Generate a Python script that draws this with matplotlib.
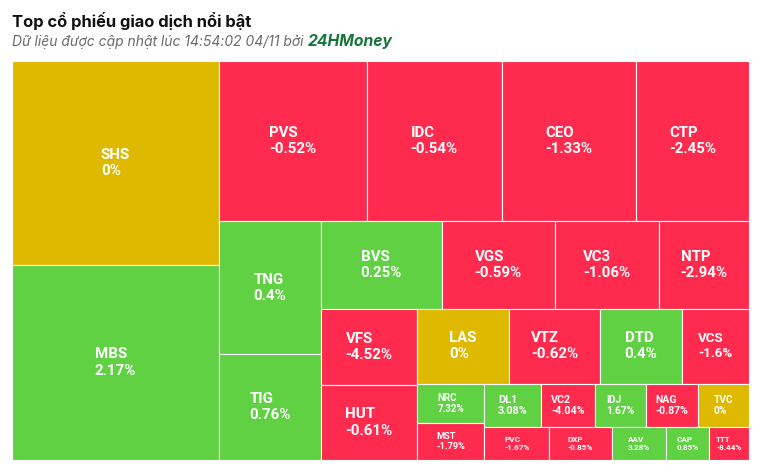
import matplotlib
matplotlib.use("Agg")
import matplotlib.pyplot as plt
from matplotlib.patches import Rectangle

# ma co phieu, % thay doi, khoi luong giao dich (uoc luong tu dien tich o)
tickers = ["SHS", "MBS", "PVS", "IDC", "CEO", "CTP", "TNG", "TIG", "BVS", "VGS",
           "VC3", "NTP", "VFS", "HUT", "LAS", "VTZ", "DTD", "VCS", "NRC", "MST",
           "DL1", "VC2", "IDJ", "NAG", "TVC", "PVC", "DXP", "AAV", "CAP", "TTT"]
changes = [0, 2.17, -0.52, -0.54, -1.33, -2.45, 0.4, 0.76, 0.25, -0.59,
           -1.06, -2.94, -4.52, -0.61, 0, -0.62, 0.4, -1.6, 7.32, -1.79,
           3.08, -4.04, 1.67, -0.87, 0, -1.67, -0.85, 3.28, 0.85, -8.44]
volumes = [42230, 40370, 23630, 21600, 21490, 18080, 13560, 10750, 10590, 9890,
           9130, 7880, 7330, 7200, 6900, 6870, 6100, 5050, 2645, 2490,
           2455, 2320, 2240, 2265, 2195, 2126, 2037, 1788, 1395, 1318]

GREEN = "#5fd143"
RED = "#ff2b4f"
YELLOW = "#dfb900"


def squarified(values, x, y, w, h):
    # squarified layout, huong xen ke cot / hang (giong Highcharts)
    scale = w * h / sum(values)
    areas = [v * scale for v in values]
    rects = []
    box = [x, y, w, h]
    state = {"dir": 0}

    def thick(s):
        return s / box[3] if state["dir"] == 0 else s / box[2]

    def ratio(a, t):
        l = a / t
        return max(t / l, l / t)

    def flush(row):
        t = thick(sum(row))
        px, py = box[0], box[1]
        for a in row:
            if state["dir"] == 0:
                rects.append((px, py, t, a / t))
                py += a / t
            else:
                rects.append((px, py, a / t, t))
                px += a / t
        if state["dir"] == 0:
            box[0] += t
            box[2] -= t
        else:
            box[1] += t
            box[3] -= t
        state["dir"] = 1 - state["dir"]

    row = []
    for a in areas:
        if row:
            old = ratio(row[-1], thick(sum(row)))
            new = ratio(row[-1], thick(sum(row) + a))
            if new > old:
                flush(row)
                row = []
        row.append(a)
    flush(row)
    return rects


fig = plt.figure(figsize=(7.67, 4.73), dpi=100)
ax = fig.add_axes([0, 0, 1, 1])
ax.set_xlim(0, 767)
ax.set_ylim(473, 0)
ax.axis("off")

rects = squarified(volumes, 12, 61, 737, 399)
for (rx, ry, rw, rh), name, ch in zip(rects, tickers, changes):
    color = GREEN if ch > 0 else (RED if ch < 0 else YELLOW)
    ax.add_patch(Rectangle((rx, ry), rw, rh, facecolor=color,
                           edgecolor="white", linewidth=0.8))
    fs = min(15, 0.25 * rh, 0.2 * rw) * 0.72
    ax.text(rx + rw / 2, ry + rh / 2, f"{name}\n{ch:g}%", ha="center", va="center",
            multialignment="left", color="white", fontsize=fs, fontweight="bold",
            family=["Roboto", "DejaVu Sans"])

ax.text(12, 27, "Top cổ phiếu giao dịch nổi bật", fontsize=11.9, fontweight="bold",
        color="#111111", family=["Inter", "DejaVu Sans"], va="baseline")
sub = ax.text(12, 46, "Dữ liệu được cập nhật lúc 14:54:02 04/11 bởi ", fontsize=10,
              style="italic", color="#6b6b6b", family=["Inter", "DejaVu Sans"],
              va="baseline")
fig.canvas.draw()
bb = sub.get_window_extent()
x_end = ax.transData.inverted().transform((bb.x1, bb.y0))[0]
ax.text(x_end, 46, "24HMoney", fontsize=11.3, style="italic", fontweight="bold",
        color="#16753a", family=["Inter", "DejaVu Sans"], va="baseline")

fig.savefig("out.png", dpi=100)
